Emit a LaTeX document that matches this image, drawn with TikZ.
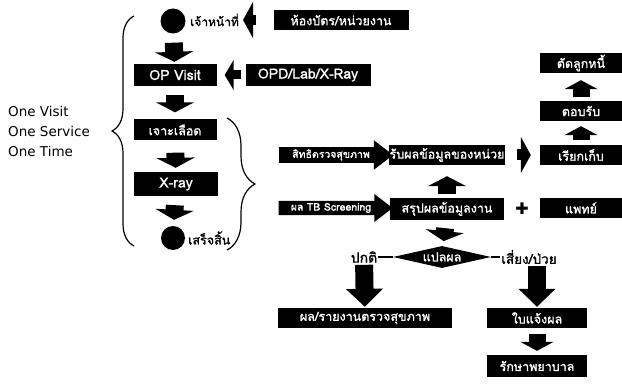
\documentclass[tikz,border=0pt]{standalone}
\usepackage{fontspec}
\setmainfont{Liberation Sans}
\newfontfamily\thai[Script=Thai,FakeBold=1.2]{Loma}
\newfontfamily\symf{DejaVu Sans}
\usetikzlibrary{shapes.geometric,shapes.arrows,arrows.meta,decorations.pathreplacing,calc}
\begin{document}
\begin{tikzpicture}[x=1pt,y=-1pt,
  box/.style={fill=black,text=white,font=\thai\fontsize{12.5}{13}\selectfont,inner sep=0.5pt,minimum height=20pt},
  latin/.style={font=\thai\fontsize{14}{14}\selectfont},
  lbl/.style={font=\thai\fontsize{#1}{14}\selectfont,inner sep=1pt},
  blkarrow/.style={line width=18pt,-{Triangle[width=38pt,length=10pt]}},
  uparrow/.style={line width=17pt,-{Triangle[width=33pt,length=9pt]}},
  longarrow/.style={line width=18pt,-{Triangle[width=36pt,length=18pt]}},
  sidearrow/.style={line width=9pt,-{Triangle[width=30pt,length=9pt]}},
  boxarrow/.style={single arrow,fill=black,text=white,font=\thai\fontsize{10.5}{11}\selectfont,
    minimum height=114pt,single arrow head extend=7pt,single arrow tip angle=75,inner xsep=2pt,inner ysep=2pt},
  grp/.style={decorate,decoration={brace,amplitude=#1},line width=1.2pt}
]
\useasboundingbox (0,0) rectangle (622,385);

% left column
\node[circle,fill=black,minimum size=25pt,inner sep=0pt] (start) at (173,21) {};
\node[lbl=12,anchor=west] (staff) at (189,20) {เจ้าหน้าที่};
\node[box,minimum width=135pt] (card) at (341,20) {ห้องบัตร/หน่วยงาน};
\node[box,latin,minimum width=83pt,minimum height=22pt] (opv) at (175,75) {OP Visit};
\node[box,latin,minimum width=125pt,minimum height=22pt] (opd) at (308,75) {OPD/Lab/X-Ray};
\node[box,minimum width=83pt,minimum height=21pt] (blood) at (175,130) {เจาะเลือด};
\node[box,latin,minimum width=84pt,minimum height=24pt] (xray) at (176,184) {X-ray};
\node[circle,fill=black,minimum size=24pt,inner sep=0pt] (end) at (173,238) {};
\node[lbl=12.5,anchor=west] (done) at (187,238) {เสร็จสิ้น};

\node[anchor=west,align=left,font=\symf\fontsize{13.5}{20}\selectfont,inner sep=0pt] (ovos) at (8,131) {One Visit\\One Service\\One Time};

\coordinate (lbA) at (134,246);
\coordinate (lbB) at (134,16);
\draw[grp=22pt] (lbA) -- (lbB);
\coordinate (rbA) at (227,118);
\coordinate (rbB) at (227,250);
\draw[grp=28pt] (rbA) -- (rbB);

\draw[blkarrow,shorten <=9pt,shorten >=2pt] (start) -- (opv);
\draw[blkarrow,shorten <=9pt,shorten >=7pt] (opv) -- (blood);
\draw[blkarrow,shorten <=12pt,shorten >=4pt] (blood) -- (xray);
\draw[blkarrow,shorten <=9pt,shorten >=6pt] (xray) -- (end);
\draw[line width=10pt,-{Triangle[width=36pt,length=10pt]},shorten <=17pt,shorten >=3pt] (card) -- (staff);
\draw[sidearrow,shorten <=4pt,shorten >=8pt] (opd) -- (opv);

% right part
\node[boxarrow] (rights) at (331,155) {สิทธิตรวจสุขภาพ};
\node[boxarrow] (tb) at (331,208) {ผล TB Screening};
\node[box,minimum width=113pt] (recv) at (447,155) {รับผลข้อมูลของหน่วย};
\node[box,minimum width=114pt,minimum height=22pt] (sum) at (447,209) {สรุปผลข้อมูลงาน};
\node[box,minimum width=82pt] (bill) at (581,155) {เรียกเก็บ};
\node[box,minimum width=82pt] (accept) at (581,111) {ตอบรับ};
\node[box,minimum width=82pt] (cut) at (581,63) {ตัดลูกหนี้};
\node[box,minimum width=82pt] (doc) at (581,208) {แพทย์};
\node[diamond,aspect=5,fill=black,text=white,font=\thai\fontsize{12.5}{13}\selectfont,inner sep=0pt,minimum width=98pt,minimum height=22pt] (interp) at (442,257) {แปลผล};
\node[lbl=14] (normal) at (364,257) {ปกติ};
\node[lbl=13.5] (risk) at (529,257) {เสี่ยง/ป่วย};
\node[box,minimum width=174pt] (report) at (365,318) {ผล/รายงานตรวจสุขภาพ};
\node[box,minimum width=100pt] (notice) at (537,318) {ใบแจ้งผล};
\node[box,minimum width=100pt,minimum height=22pt] (treat) at (537,366) {รักษาพยาบาล};

\draw[line width=11pt,-{Triangle[width=36pt,length=10pt]},shorten <=12pt,shorten >=9pt] (recv) -- (bill);
\draw[blkarrow,shorten <=4pt,shorten >=11pt] (sum) -- (recv);
\draw[uparrow,shorten <=5pt,shorten >=5pt] (bill) -- (accept);
\draw[uparrow,shorten <=4pt,shorten >=7pt] (accept) -- (cut);
\draw[blkarrow,shorten <=8pt,shorten >=5pt] (sum) -- (interp);
\draw[line width=1.3pt] (interp) -- (normal);
\draw[line width=1.3pt] (interp) -- (risk);
\draw[longarrow,shorten <=1pt,shorten >=1pt] (normal) -- (report);
\draw[longarrow,shorten <=1pt,shorten >=1pt] (notice.north |- risk.south) -- (notice.north);
\draw[uparrow,shorten <=6pt,shorten >=4pt] (notice) -- (treat);
\node[font=\symf\fontsize{16}{16}\selectfont,inner sep=0pt] (plus) at ($(sum.east)!0.5!(doc.west)$) {✚};
\end{tikzpicture}
\end{document}
